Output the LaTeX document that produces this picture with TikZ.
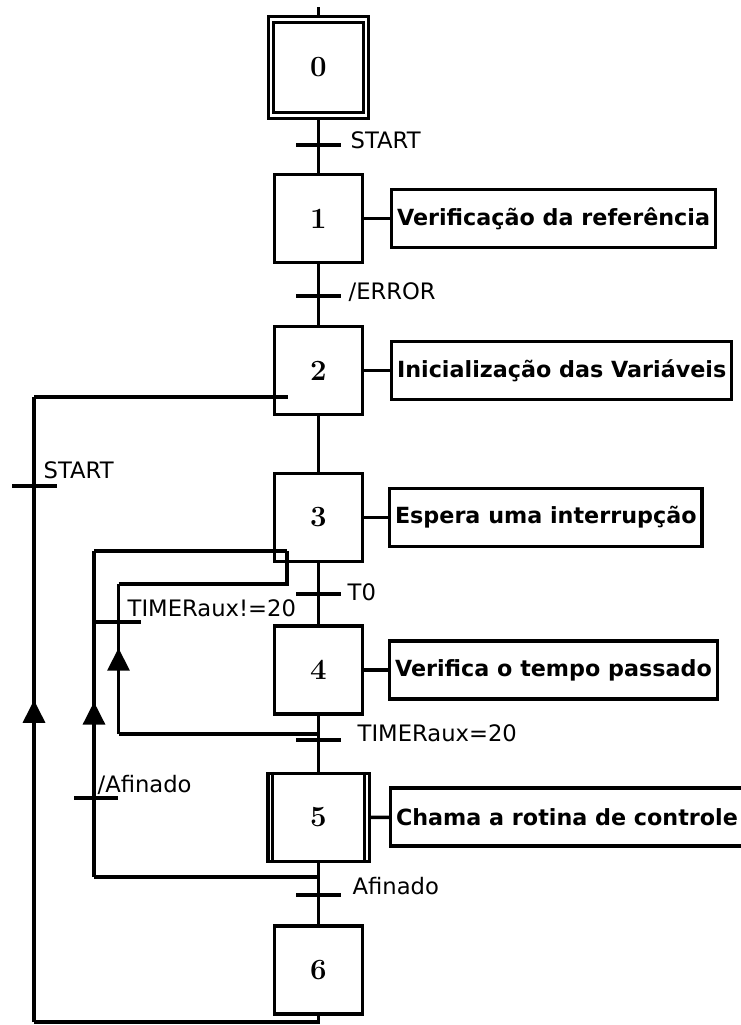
\documentclass[tikz,border=0pt]{standalone}
\usepackage{fontspec}
\setsansfont{DejaVu Sans}
\usetikzlibrary{calc}
\usetikzlibrary{arrows.meta}
\usetikzlibrary{decorations.markings}

\tikzset{
  stepbox/.style={rectangle,draw,line width=2.5pt,minimum width=66pt,minimum height=66pt,inner sep=0pt,font=\fontsize{22}{24}\selectfont\bfseries},
  initbox/.style={stepbox,double,double distance=1.6pt,line width=2.3pt,minimum width=71pt,minimum height=72pt},
  actbox/.style={rectangle,draw,line width=2.5pt,minimum height=43.5pt,inner xsep=4pt,font=\sffamily\bfseries\fontsize{16.7}{19}\selectfont},
  bar/.style={rectangle,fill,minimum width=33.75pt,minimum height=2.5pt,inner sep=0pt},
  cond/.style={font=\sffamily\fontsize{17}{19}\selectfont,inner sep=0pt},
  uparrow/.style={postaction=decorate,decoration={markings,mark=at position #1 with {\arrow{Triangle[length=17pt,width=16.5pt]}}}},
}

\begin{document}
\begin{tikzpicture}[x=0.75pt,y=-0.75pt,line width=2.5pt]
\useasboundingbox (0,0) rectangle (741,1025);
% etapas
\node (E0) [initbox] at (318.5,67.5) {0};
\node (E1) [stepbox] at (318.5,218.5) {1};
\node (E2) [stepbox] at (318.5,370.5) {2};
\node (E3) [stepbox] at (318.5,517.5) {3};
\node (E4) [stepbox] at (318.5,670) {4};
\node (E5) [stepbox,minimum width=76pt] at (318.5,817.5) {5};
\node (E6) [stepbox] at (318.5,970) {6};
\draw ($(E5.north west)+(6.5,0)$) -- ($(E5.south west)+(6.5,0)$);
\draw ($(E5.north east)+(-6.5,0)$) -- ($(E5.south east)+(-6.5,0)$);
% acoes
\node (A1) [actbox,anchor=west] at (390,218.5) {Verificação da referência};
\node (A2) [actbox,anchor=west] at (390,370.5) {Inicialização das Variáveis};
\node (A3) [actbox,anchor=west] at (388,517.5) {Espera uma interrupção};
\node (A4) [actbox,anchor=west] at (388,670) {Verifica o tempo passado};
\node (A5) [actbox,anchor=west] at (389,817) {Chama a rotina de controle};
\draw (E1) -- (A1);
\draw (E2) -- (A2);
\draw (E3) -- (A3);
\draw (E4) -- (A4);
\draw (E5) -- (A5);
% transicoes
\node (T01) [bar] at (318.5,145) {};
\node (T12) [bar] at (318.5,296) {};
\node (T34) [bar] at (318.5,594) {};
\node (T45) [bar] at (318.5,740) {};
\node (T56) [bar] at (318.5,895) {};
\node (TL6) [bar] at (34,486) {};
\node (TL5) [bar,minimum width=33pt] at (96,798) {};
\node (TL4) [bar] at (118.5,622) {};
\node [cond,anchor=base west] at (349,148) {START};
\node [cond,anchor=base west] at (347,299) {/ERROR};
\node [cond,anchor=base west] at (346,600) {T0};
\node [cond,anchor=base west] at (356,741) {TIMERaux=20};
\node [cond,anchor=base west] at (351,894) {Afinado};
\node [cond,anchor=base west] at (42,478) {START};
\node [cond,anchor=base west] at (126,616) {TIMERaux!=20};
\node [cond,anchor=base west] at (96,792) {/Afinado};
% sequencia principal
\coordinate (top) at (318.5,7);
\draw (top) -- (E0);
\draw (E0) -- (E1);
\draw (E1) -- (E2);
\draw (E2) -- (E3);
\draw (E3) -- (E4);
\draw (E4) -- (E5);
\draw (E5) -- (E6);
% retornos
\coordinate (B6) at (34,1022);
\coordinate (R2) at (288,397);
\draw (E6.south) |- (B6);
\draw [uparrow=0.515] (B6) -- (B6 |- R2);
\draw (B6 |- R2) -- (R2);
\coordinate (B5) at (318.5,877);
\coordinate (C5) at (94,877);
\coordinate (R3a) at (287,551);
\draw (B5) -- (C5);
\draw [uparrow=0.537] (C5) -- (C5 |- R3a);
\draw (C5 |- R3a) -- (R3a);
\coordinate (B4) at (318.5,734);
\coordinate (C4) at (118.5,734);
\coordinate (R3b) at (287,584);
\draw (B4) -- (C4);
\draw [uparrow=0.573] (C4) -- (C4 |- R3b);
\draw (C4 |- R3b) -- (R3b) -- (R3a);
\end{tikzpicture}
\end{document}
